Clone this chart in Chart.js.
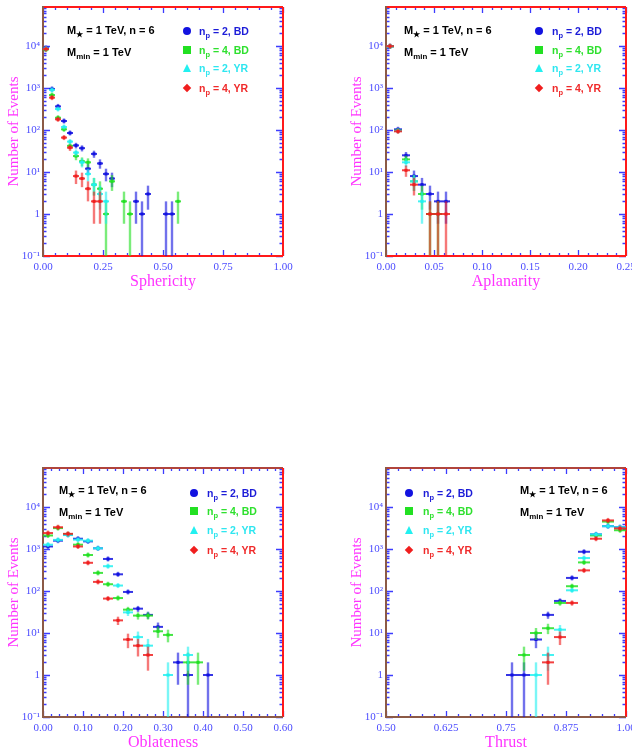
<!DOCTYPE html>
<html><head><meta charset="utf-8">
<script src="https://cdn.jsdelivr.net/npm/chart.js@4.4.1/dist/chart.umd.min.js"></script>
<style>
html,body{margin:0;padding:0;background:#fff;overflow:hidden;width:632px;height:747px;}
canvas{position:absolute;left:0;top:0;}
.t{position:absolute;white-space:nowrap;transform:translateY(-50%);font-family:"Liberation Sans",Arial,sans-serif;font-weight:bold;line-height:1;}
.t sub{font-size:72%;vertical-align:baseline;position:relative;top:0.35em;}
.mk{position:absolute;transform:translate(-50%,-50%);}
</style></head><body>
<canvas id="c1" width="632" height="800"></canvas>
<canvas id="c2" width="632" height="800"></canvas>
<canvas id="c3" width="632" height="800"></canvas>
<canvas id="c4" width="632" height="800"></canvas>
<div id="overlay"></div>
<script>
// ---------------- DATA ----------------
const seriesNp = [2, 4, 2, 4];
const seriesModel = ['BD', 'BD', 'YR', 'YR'];
const headerLine1 = ['M', '\u2605', ' = 1 TeV, n = 6'];
const headerLine2 = ['M', 'min', ' = 1 TeV'];
const yAxisTitle = 'Number of Events';

const yTickValues = [0.1, 1, 10, 100, 1000, 10000];
const yTickLabels = ['10\u207B\u00B9', '1', '10\u00B9', '10\u00B2', '10\u00B3', '10\u2074'];

// Sphericity
const sphericityBins = [0.0125,0.0375,0.0625,0.0875,0.1125,0.1375,0.1625,0.1875,0.2125,0.2375,0.2625,0.2875,0.3125,0.3375,0.3625,0.3875,0.4125,0.4375,0.4625,0.4875,0.5125,0.5375,0.5625];
const sphericityBlue  = [9000,950,365,164,85,43,37,12,27,16,9,7,null,null,null,2,1,3,null,null,1,1,null];
const sphericityGreen = [8300,680,196,104,42,24,18,17,5,4,1,6,null,2,1,null,null,null,null,null,null,null,2];
const sphericityCyan  = [8700,900,317,118,53,29,17,9,5,3,2,null,null,null,null,null,null,null,null,null,null,null,null];
const sphericityRed   = [8500,590,180,66,38,8,7,4,2,2,null,null,null,null,null,null,null,null,null,null,null,null,null];
const sphericityTicks = [0, 0.25, 0.5, 0.75, 1.0];
const sphericityTickLabels = ['0.00', '0.25', '0.50', '0.75', '1.00'];

// Aplanarity
const aplanarityBins = [0.0041667,0.0125,0.0208333,0.0291667,0.0375,0.0458333,0.0541667,0.0625];
const aplanarityBlue  = [9900,104,25,8,5,3,2,2];
const aplanarityGreen = [9800,97,20,6,3,1,1,null];
const aplanarityCyan  = [9800,95,17,6,2,null,null,null];
const aplanarityRed   = [9900,93,11,5,null,1,1,1];
const aplanarityTicks = [0, 0.05, 0.10, 0.15, 0.20, 0.25];
const aplanarityTickLabels = ['0.00', '0.05', '0.10', '0.15', '0.20', '0.25'];

// Oblateness
const oblatenessBins = [0.0125,0.0375,0.0625,0.0875,0.1125,0.1375,0.1625,0.1875,0.2125,0.2375,0.2625,0.2875,0.3125,0.3375,0.3625,0.3875,0.4125];
const oblatenessBlue  = [1150,1580,2200,1760,1520,1040,580,250,95,38,27,14,null,2,1,null,1];
const oblatenessGreen = [2100,3150,2250,1270,720,270,145,68,36,26,26,11,9,null,2,2,null];
const oblatenessCyan  = [1270,1650,2150,1670,1580,1040,390,135,31,8,5,null,1,null,3,null,null];
const oblatenessRed   = [2400,3300,2300,1150,470,165,66,20,7,5,3,null,null,null,null,null,null];
const oblatenessTicks = [0, 0.1, 0.2, 0.3, 0.4, 0.5, 0.6];
const oblatenessTickLabels = ['0.00', '0.10', '0.20', '0.30', '0.40', '0.50', '0.60'];

// Thrust
const thrustBins = [0.7625,0.7875,0.8125,0.8375,0.8625,0.8875,0.9125,0.9375,0.9625,0.9875];
const thrustBlue  = [1,1,7,27,58,205,860,2230,3500,3300];
const thrustGreen = [null,3,10,13,52,130,480,2100,4500,2800];
const thrustCyan  = [null,null,1,3,12,104,610,2230,3500,3300];
const thrustRed   = [null,null,null,2,8,52,310,1760,4800,3100];
const thrustTicks = [0.5, 0.625, 0.75, 0.875, 1.0];
const thrustTickLabels = ['0.50', '0.625', '0.75', '0.875', '1.00'];

// ---------------- STYLE ----------------
const SERIES_COLORS = ['#1212e0', '#22e022', '#22f0f0', '#f01e1e'];
const TEXT_COLORS = ['#1c1cd8', '#2ee02e', '#2ee6f0', '#f02a2a'];
const MARKERS = ['circle', 'square', 'triangle', 'diamond'];
const TICK_COLOR = '#3c3cff';
const LABEL_COLOR = '#4b4bff';
const TITLE_COLOR = '#ff33ff';
const BROWN = '#8c5a46';
const RED = '#ff1a1a';
const Y_MAX = 85000;
const Y_W = 38, X_H = 35, CW = 632, CH = 800;

const panels = [
  {id:'c1', title:'Sphericity', bins:sphericityBins, series:[sphericityBlue,sphericityGreen,sphericityCyan,sphericityRed],
   xMin:0, xMax:1, ticks:sphericityTicks, tickLabels:sphericityTickLabels, binW:0.025, minor:0.05, major:0.25,
   area:{l:43,r:283,t:7,b:256}, frame:{left:BROWN,bottom:RED,right:RED,top:RED},
   head:{x:67,y1:30,y2:52}, leg:{mx:187,tx:199,ys:[31,50,68,88]}},
  {id:'c2', title:'Aplanarity', bins:aplanarityBins, series:[aplanarityBlue,aplanarityGreen,aplanarityCyan,aplanarityRed],
   xMin:0, xMax:0.25, ticks:aplanarityTicks, tickLabels:aplanarityTickLabels, binW:0.0083333, minor:0.01, major:0.05,
   area:{l:386,r:626,t:7,b:256}, frame:{left:BROWN,bottom:RED,right:RED,top:RED},
   head:{x:404,y1:30,y2:52}, leg:{mx:539,tx:552,ys:[31,50,68,88]}},
  {id:'c3', title:'Oblateness', bins:oblatenessBins, series:[oblatenessBlue,oblatenessGreen,oblatenessCyan,oblatenessRed],
   xMin:0, xMax:0.6, ticks:oblatenessTicks, tickLabels:oblatenessTickLabels, binW:0.025, minor:0.02, major:0.1,
   area:{l:43,r:283,t:468,b:717}, frame:{left:BROWN,bottom:BROWN,right:RED,top:'#b0443c'},
   head:{x:59,y1:490,y2:512}, leg:{mx:194,tx:207,ys:[493,511,530,550]}},
  {id:'c4', title:'Thrust', bins:thrustBins, series:[thrustBlue,thrustGreen,thrustCyan,thrustRed],
   xMin:0.5, xMax:1.0, ticks:thrustTicks, tickLabels:thrustTickLabels, binW:0.025, minor:0.025, major:0.125,
   area:{l:386,r:626,t:468,b:717}, frame:{left:BROWN,bottom:BROWN,right:RED,top:'#b0443c'},
   head:{x:520,y1:490,y2:512}, leg:{mx:409,tx:423,ys:[493,511,530,550]}}
];

// ---------------- PLUGINS ----------------
const frameTicks = {
  id:'frameTicks',
  beforeDatasetsDraw(chart) {
    const p = chart.options.plugins.frameTicks;
    const {ctx, chartArea:a, scales:{x, y}} = chart;
    ctx.save();
    ctx.strokeStyle = TICK_COLOR; ctx.lineWidth = 1.3;
    ctx.beginPath();
    const n = Math.round((p.xMax - p.xMin) / p.minor);
    for (let i = 0; i <= n; i++) {
      const v = p.xMin + i * p.minor;
      const r = (v - p.xMin) / p.major;
      const isMaj = Math.abs(r - Math.round(r)) < 1e-6;
      const L = isMaj ? 6 : 3;
      const px = Math.round(x.getPixelForValue(v)) + 0.5;
      ctx.moveTo(px, a.bottom); ctx.lineTo(px, a.bottom - L);
      ctx.moveTo(px, a.top); ctx.lineTo(px, a.top + L);
    }
    for (let d = -1; d <= 5; d++) {
      for (let k = 1; k <= 9; k++) {
        const v = k * Math.pow(10, d);
        if (v < y.min - 1e-12 || v > y.max) continue;
        const L = k === 1 ? 7 : 3.5;
        const py = Math.round(y.getPixelForValue(v)) + 0.5;
        ctx.moveTo(a.left, py); ctx.lineTo(a.left + L, py);
        ctx.moveTo(a.right, py); ctx.lineTo(a.right - L, py);
      }
    }
    ctx.stroke();
    ctx.lineWidth = 2;
    const f = p.frame;
    const seg = (c, x1, y1, x2, y2) => { ctx.strokeStyle = c; ctx.beginPath(); ctx.moveTo(x1, y1); ctx.lineTo(x2, y2); ctx.stroke(); };
    seg(f.top, a.left, a.top, a.right, a.top);
    seg(f.right, a.right, a.top, a.right, a.bottom);
    seg(f.bottom, a.left, a.bottom, a.right, a.bottom);
    seg(f.left, a.left, a.top - 1, a.left, a.bottom + 1);
    ctx.restore();
  }
};

const errorCrosses = {
  id:'errorCrosses',
  afterDatasetsDraw(chart) {
    const {ctx, chartArea:a, scales:{x, y}} = chart;
    const hw = chart.options.plugins.errorCrosses.binW / 2;
    ctx.save();
    ctx.beginPath(); ctx.rect(a.left, a.top, a.right - a.left, a.bottom - a.top); ctx.clip();
    chart.data.datasets.forEach(ds => {
      ctx.strokeStyle = ds.borderColor; ctx.fillStyle = ds.borderColor;
      ds.data.forEach(pt => {
        const v = pt.y, e = Math.sqrt(v);
        const px = x.getPixelForValue(pt.x), py = y.getPixelForValue(v);
        const lo = (v - e) > y.min ? v - e : y.min / 10;
        let yl = y.getPixelForValue(lo), yh = y.getPixelForValue(v + e);
        yh = Math.min(yh, py - 2.5); yl = Math.max(yl, py + 2.5);
        ctx.globalAlpha = 0.6; ctx.lineWidth = 2.4;
        ctx.beginPath(); ctx.moveTo(px, yl); ctx.lineTo(px, yh); ctx.stroke();
        ctx.globalAlpha = 0.85; ctx.lineWidth = 2;
        ctx.beginPath();
        ctx.moveTo(x.getPixelForValue(pt.x - hw), py); ctx.lineTo(x.getPixelForValue(pt.x + hw), py);
        ctx.stroke();
        ctx.globalAlpha = 1;
        ctx.fillRect(px - 1.5, py - 1.5, 3, 3);
      });
    });
    ctx.restore();
  }
};

// ---------------- CHARTS ----------------
panels.forEach(P => {
  const datasets = P.series.map((vals, si) => ({
    label: 'n_p = ' + seriesNp[si] + ', ' + seriesModel[si],
    data: P.bins.map((b, i) => vals[i] == null ? null : {x: b, y: vals[i]}).filter(Boolean),
    borderColor: SERIES_COLORS[si], backgroundColor: SERIES_COLORS[si],
    pointRadius: 0, showLine: false
  }));
  const A = P.area;
  new Chart(document.getElementById(P.id), {
    type: 'scatter',
    data: {datasets},
    options: {
      responsive: false, animation: false, devicePixelRatio: 1,
      layout: {padding: {left: A.l - Y_W, right: CW - A.r, top: A.t, bottom: CH - A.b - X_H}},
      plugins: {
        legend: {display: false}, tooltip: {enabled: false},
        frameTicks: {xMin: P.xMin, xMax: P.xMax, minor: P.minor, major: P.major, frame: P.frame},
        errorCrosses: {binW: P.binW}
      },
      scales: {
        x: {
          type: 'linear', position: 'bottom', min: P.xMin, max: P.xMax,
          grid: {display: false, drawTicks: false}, border: {display: false},
          afterBuildTicks: s => { s.ticks = P.ticks.map(v => ({value: v})); },
          afterFit: s => { s.height = X_H; s.paddingLeft = 0; s.paddingRight = 0; },
          ticks: {autoSkip: false, maxRotation: 0, minRotation: 0, padding: 5, color: LABEL_COLOR,
                  font: {family: 'Liberation Serif', size: 11},
                  callback: (v, i) => P.tickLabels[i]},
          title: {display: true, text: P.title, color: TITLE_COLOR, padding: 0,
                  font: {family: 'Liberation Serif', size: 16}}
        },
        y: {
          type: 'logarithmic', position: 'left', min: 0.1, max: Y_MAX,
          grid: {display: false, drawTicks: false}, border: {display: false},
          afterBuildTicks: s => { s.ticks = yTickValues.map(v => ({value: v})); },
          afterFit: s => { s.width = Y_W; s.paddingTop = 0; s.paddingBottom = 0; },
          ticks: {autoSkip: false, padding: 3, color: LABEL_COLOR,
                  font: {family: 'Liberation Serif', size: 11},
                  callback: (v, i) => yTickLabels[i]},
          title: {display: true, text: yAxisTitle, color: TITLE_COLOR, padding: 0,
                  font: {family: 'Liberation Serif', size: 15}}
        }
      }
    },
    plugins: [frameTicks, errorCrosses]
  });
});

// ---------------- ANNOTATIONS (legend + header) ----------------
const ov = document.getElementById('overlay');
function addText(x, y, parts, size, color) {
  const d = document.createElement('div');
  d.className = 't';
  d.style.left = x + 'px'; d.style.top = y + 'px';
  d.style.fontSize = size + 'px'; d.style.color = color;
  d.appendChild(document.createTextNode(parts[0]));
  const s = document.createElement('sub'); s.textContent = parts[1]; d.appendChild(s);
  d.appendChild(document.createTextNode(parts[2]));
  ov.appendChild(d);
}
function addMarker(x, y, kind, color) {
  const m = document.createElement('div');
  m.className = 'mk';
  m.style.left = x + 'px'; m.style.top = y + 'px';
  if (kind === 'circle') { m.style.width = '8px'; m.style.height = '8px'; m.style.borderRadius = '50%'; m.style.background = color; }
  else if (kind === 'square') { m.style.width = '8px'; m.style.height = '8px'; m.style.background = color; }
  else if (kind === 'triangle') { m.style.width = '0'; m.style.height = '0'; m.style.borderLeft = '4.5px solid transparent'; m.style.borderRight = '4.5px solid transparent'; m.style.borderBottom = '8px solid ' + color; }
  else { m.style.width = '6px'; m.style.height = '6px'; m.style.background = color; m.style.transform = 'translate(-50%,-50%) rotate(45deg)'; }
  ov.appendChild(m);
}
panels.forEach(P => {
  addText(P.head.x, P.head.y1, headerLine1, 11, '#000');
  addText(P.head.x, P.head.y2, headerLine2, 11, '#000');
  P.leg.ys.forEach((yy, si) => {
    addMarker(P.leg.mx, yy, MARKERS[si], SERIES_COLORS[si]);
    addText(P.leg.tx, yy, ['n', 'p', ' = ' + seriesNp[si] + ', ' + seriesModel[si]], 10.5, TEXT_COLORS[si]);
  });
});
</script>
</body></html>
